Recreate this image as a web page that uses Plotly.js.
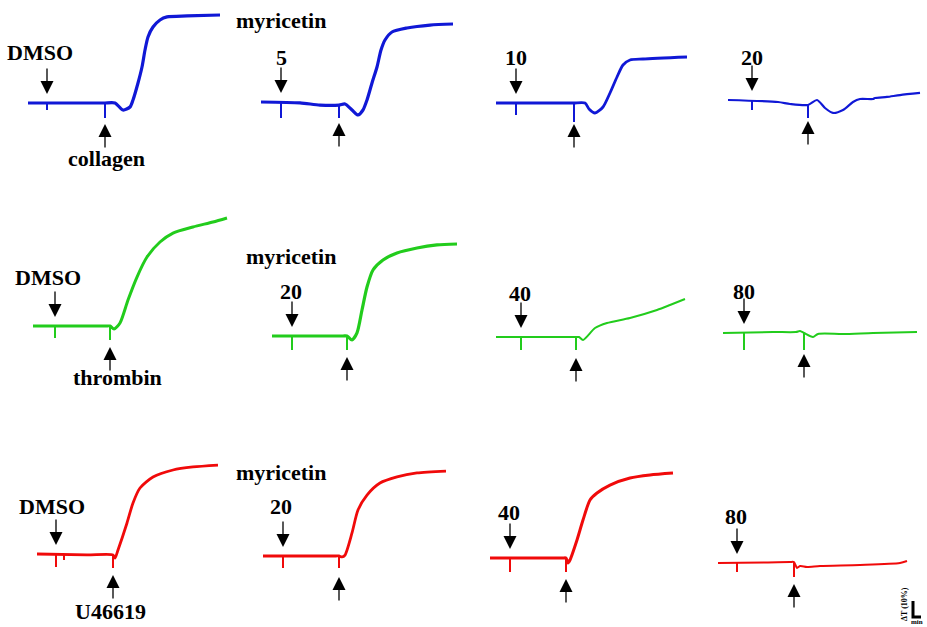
<!DOCTYPE html>
<html><head><meta charset="utf-8">
<script src="https://cdn.plot.ly/plotly-3.0.1.min.js"></script>
<style>html,body{margin:0;padding:0;background:#fff}#chart{width:927px;height:627px}</style>
</head><body><div id="chart"></div>
<script>
// time in seconds, value in % light transmission change relative to baseline
const p1_t = [0, 100, 140, 154, 174, 190, 204, 210, 220, 228, 234, 240, 250, 264, 278, 318, 384];
const p1_v = [0, 0, 0, 0, 0, -4.4, -2.5, 1.9, 12.5, 22.5, 33.1, 41.3, 47.5, 51.9, 53.8, 54.4, 55];
const p2_t = [0, 78, 118, 156, 168, 182, 194, 204, 212, 222, 232, 240, 248, 262, 292, 338, 384];
const p2_v = [0, -0.6, -1.9, -1.9, -1.25, -5, -8.1, -5, 1.25, 11.9, 21.9, 32.5, 38.75, 43.75, 46.25, 48.1, 48.75];
const p3_t = [0, 100, 140, 156, 178, 186, 198, 214, 228, 242, 254, 268, 294, 382];
const p3_v = [0, 0, 0, 0, 0, -3.75, -6.25, -2.5, 6.25, 16.25, 23.75, 26.9, 27.5, 28.75];
const p4_t = [0, 100, 124, 160, 178, 194, 210, 230, 250, 264, 290, 294, 318, 344, 384];
const p4_v = [0, -1.25, -2.5, -3.1, 0, -5, -8.1, -6.25, -1.25, 0.6, 0.6, 1.25, 1.9, 3.1, 4.4];
const p5_t = [0, 100, 146, 154, 162, 174, 190, 208, 228, 254, 280, 320, 360, 388];
const p5_v = [0, 0, 0, 0, -1.9, 1.9, 16.25, 30.6, 43.1, 52.5, 58.1, 61.9, 65, 67.5];
const p6_t = [0, 100, 142, 150, 160, 170, 180, 190, 202, 222, 250, 290, 330, 370];
const p6_v = [0, 0, 0, 0, -2.5, 1.9, 16.25, 30.6, 41.25, 47.5, 51.9, 55, 56.9, 57.5];
const p7_t = [0, 100, 150, 160, 166, 174, 198, 222, 268, 322, 348, 378];
const p7_v = [0, 0, 0, 0, 0, -1.9, 5.6, 8.75, 11.9, 16.9, 20, 23.75];
const p8_t = [0, 100, 146, 154, 162, 180, 190, 240, 300, 388];
const p8_v = [0, 0.6, 0.6, 1.25, 0, -2.5, -0.6, -0.6, 0, 0.6];
const p9_t = [0, 100, 152, 156, 162, 180, 192, 206, 232, 272, 312, 362];
const p9_v = [0, -0.6, -0.6, -2.5, 2.5, 19.4, 31.9, 41.25, 48.1, 52.5, 54.4, 55.6];
const p10_t = [0, 100, 146, 152, 158, 164, 178, 190, 208, 234, 268, 308, 366];
const p10_v = [0, 0, 0, 0, -0.6, 0.6, 14.4, 28.75, 38.1, 45.6, 49.4, 51.9, 53.1];
const p11_t = [0, 100, 146, 152, 156, 160, 174, 186, 200, 214, 240, 280, 320, 366];
const p11_v = [0, 0, 0, 0, -3.1, -1.25, 11.25, 23.75, 36.25, 40.6, 45.6, 50, 51.9, 53.1];
const p12_t = [0, 100, 144, 152, 158, 164, 178, 204, 284, 364, 378];
const p12_v = [0, 0.3, 0.6, 0.6, -3.1, -1.9, -2.5, -1.9, -1.25, 0, 1.25];

// addition times (s) and artefact spikes (%)
const drugTime = [38, 40, 40, 48, 44, 40, 50, 42, 38, 40, 40, 38];
const drugSpikeTop = [0, 0, 0, 0, 0, 0, 0, 0, 0, 0, 0, 0];
const drugSpikeDepth = [-4.4, -10, -7.5, -6.25, -7.5, -8.75, -8.1, -10.6, -8.1, -7.5, -8.75, -5.6];
const agonistTime = [154, 156, 156, 160, 154, 150, 160, 162, 152, 152, 152, 152];
const agonistSpikeTop = [0, -1.9, 0, -3.1, 0, 0, 0, 0, -0.6, 0, 0, 0.6];
const agonistSpikeDepth = [-9.4, -10, -11.9, -11.25, -8.75, -8.75, -8.1, -10.6, -8.75, -7.5, -8.75, -8.75];
const extraSpikeTime = [null, null, null, null, null, null, null, null, 54, null, null, null];
const extraSpikeDepth = [null, null, null, null, null, null, null, null, -3.75, null, null, null];

const labelTexts = ["DMSO", "collagen", "myricetin", "5", "10", "20",
                    "DMSO", "thrombin", "myricetin", "20", "40", "80",
                    "DMSO", "U46619", "myricetin", "20", "40", "80"];

// ---- layout / style ----
const W = 927, H = 627;
const series = [[p1_t,p1_v],[p2_t,p2_v],[p3_t,p3_v],[p4_t,p4_v],[p5_t,p5_v],[p6_t,p6_v],
                [p7_t,p7_v],[p8_t,p8_v],[p9_t,p9_v],[p10_t,p10_v],[p11_t,p11_v],[p12_t,p12_v]];
const originX = [28, 261, 496, 728, 33, 272, 496, 723, 37, 263, 490, 718];
const originY = [103, 102, 103, 100, 326, 336, 337, 333, 554, 556, 558, 563];
const colors = ['#1018d6','#1018d6','#1018d6','#1018d6','#22cc1c','#22cc1c','#22cc1c','#22cc1c','#f00a0a','#f00a0a','#f00a0a','#f00a0a'];
const widths = [3.2,3.2,2.8,2.2,3.0,3.2,2.0,2.0,2.8,2.8,3.0,2.0];
const labelPos = [[40,52],[106,158],[281,20],[281,57],[516,57],[752,57],
                  [48,277],[117,377],[291,256],[291,291],[520,293],[744,291],
                  [52,506],[110,611],[281,472],[281,506],[509,512],[736,516]];
const PXS = 0.5;   // px per second
const PXP = 1.6;   // px per percent
const PW = 195, BELOW = 40;

const data = [], layout = {
  width: W, height: H, margin: {l:0,r:0,t:0,b:0},
  paper_bgcolor: '#fff', plot_bgcolor: 'rgba(0,0,0,0)', showlegend: false,
  annotations: [], shapes: []
};
const font = {family: '"Liberation Serif", "Times New Roman", serif', size: 22, color: '#000'};

series.forEach((s, i) => {
  const k = i === 0 ? '' : String(i + 1);
  const ox = originX[i], oy = originY[i];
  const T = Math.min(115, oy - 1);
  layout['xaxis' + k] = {domain: [ox / W, (ox + PW) / W], range: [0, PW / PXS], visible: false, fixedrange: true, anchor: 'y' + k};
  layout['yaxis' + k] = {domain: [1 - (oy + BELOW) / H, 1 - (oy - T) / H], range: [-BELOW / PXP, T / PXP], visible: false, fixedrange: true, anchor: 'x' + k};
  data.push({x: s[0], y: s[1], xaxis: 'x' + k, yaxis: 'y' + k, mode: 'lines', hoverinfo: 'skip',
             line: {color: colors[i], width: widths[i], shape: 'spline', smoothing: 0.7}});
  const sx = [drugTime[i], drugTime[i], null, agonistTime[i], agonistTime[i]];
  const sy = [drugSpikeTop[i], drugSpikeDepth[i], null, agonistSpikeTop[i], agonistSpikeDepth[i]];
  if (extraSpikeTime[i] !== null) { sx.push(null, extraSpikeTime[i], extraSpikeTime[i]); sy.push(null, 0, extraSpikeDepth[i]); }
  data.push({x: sx, y: sy, xaxis: 'x' + k, yaxis: 'y' + k, mode: 'lines', hoverinfo: 'skip',
             line: {color: colors[i], width: 2}});
  // addition arrows
  layout.annotations.push({xref: 'x' + k, yref: 'y' + k, x: drugTime[i], y: 5.6, ax: 0, ay: -27, text: '',
    showarrow: true, arrowhead: 2, arrowsize: 2, arrowwidth: 1.3, arrowcolor: '#000'});
  layout.annotations.push({xref: 'x' + k, yref: 'y' + k, x: agonistTime[i], y: -13.1, ax: 0, ay: 25, text: '',
    showarrow: true, arrowhead: 2, arrowsize: 2, arrowwidth: 1.3, arrowcolor: '#000'});
});

labelTexts.forEach((t, j) => {
  layout.annotations.push({xref: 'paper', yref: 'paper', x: labelPos[j][0] / W, y: 1 - labelPos[j][1] / H,
    xanchor: 'center', yanchor: 'middle', text: '<b>' + t + '</b>', showarrow: false, font: font});
});

// scale bar
layout.shapes.push({type: 'path', xref: 'paper', yref: 'paper',
  path: 'M ' + (913 / W) + ' ' + (1 - 601 / H) + ' L ' + (913 / W) + ' ' + (1 - 617 / H) + ' L ' + (921 / W) + ' ' + (1 - 617 / H),
  line: {color: '#000', width: 3}});
layout.annotations.push({xref: 'paper', yref: 'paper', x: 904 / W, y: 1 - 604 / H, xanchor: 'center', yanchor: 'middle',
  text: '<b>ΔT (10%)</b>', textangle: -90, showarrow: false, font: {family: font.family, size: 8, color: '#000'}});
layout.annotations.push({xref: 'paper', yref: 'paper', x: 917 / W, y: 1 - 622 / H, xanchor: 'center', yanchor: 'middle',
  text: '<b>min</b>', showarrow: false, font: {family: font.family, size: 7, color: '#000'}});

Plotly.newPlot('chart', data, layout, {staticPlot: true, displayModeBar: false});
</script></body></html>
